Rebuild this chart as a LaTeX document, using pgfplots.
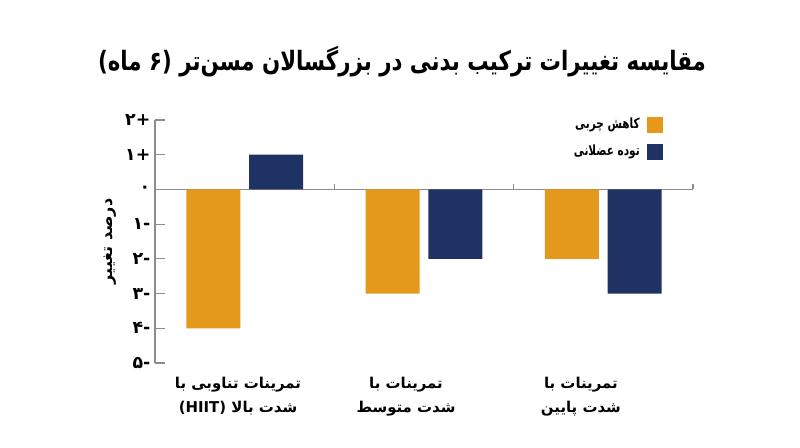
\documentclass[border=0pt]{standalone}
\usepackage{fontspec}
\usepackage{pgfplots}
\pgfplotsset{compat=1.18}
\setmainfont{DejaVu Sans}
\newfontfamily\fa[Script=Arabic]{DejaVu Sans}
\TeXXeTstate=1
\definecolor{cOr}{RGB}{229,153,28}
\definecolor{cNv}{RGB}{30,50,100}
\definecolor{cAx}{RGB}{140,140,140}
\begin{document}
\begin{tikzpicture}[x=0.75pt,y=0.75pt]
\path[use as bounding box] (0,0) rectangle (800,447);
\begin{axis}[
  at={(116.25pt,63pt)}, anchor=south west,
  scale only axis, width=403.5pt, height=182.25pt,
  xmin=-0.5, xmax=2.5, ymin=-5, ymax=2,
  clip=false,
  axis y line=left, axis x line=bottom,
  x axis line style={draw=none},
  y axis line style={cAx, line width=0.8pt, -},
  xtick={-0.037,0.900,1.875},
  xticklabels={{\beginR تمرینات تناوبی با\endR\\\beginR شدت بالا \beginL(HIIT)\endL\endR},
               {\beginR تمرینات با\endR\\\beginR شدت متوسط\endR},
               {\beginR تمرینات با\endR\\\beginR شدت پایین\endR}},
  major x tick style={draw=none},
  xticklabel style={align=center, font=\fa\bfseries\fontsize{11.2}{18}\selectfont, yshift=-7pt},
  ytick={-5,-4,-3,-2,-1,0,1,2},
  yticklabels={-۵,-۴,-۳,-۲,-۱,۰,+۱,+۲},
  yticklabel style={font=\fa\bfseries\fontsize{13}{13}\selectfont},
  tick align=inside,
  major tick length=7.5pt,
  y tick style={cAx, line width=0.8pt},
  ylabel={\beginR درصد تغییر\endR},
  ylabel style={font=\fa\bfseries\fontsize{12}{12}\selectfont},
]
\draw[cAx, line width=0.8pt] (axis cs:-0.5,0) -- (axis cs:2.5,0);
\pgfplotsinvokeforeach{0.5,1.5,2.5}{
  \draw[cAx, line width=0.8pt] (axis cs:#1,0) -- ([yshift=3.75pt]axis cs:#1,0);
}
\addplot[ybar, bar width=0.301, bar shift=0, fill=cOr, draw=none]
  coordinates {(-0.175,-4) (0.825,-3) (1.825,-2)};
\addplot[ybar, bar width=0.301, bar shift=0, fill=cNv, draw=none]
  coordinates {(0.175,1) (1.175,-2) (2.175,-3)};
\end{axis}
% legend
\fill[cOr] (647,314) rectangle (663,330);
\fill[cNv] (647,287) rectangle (663,303);
\node[anchor=east, font=\fa\bfseries\fontsize{10.5}{10.5}\selectfont, inner sep=0pt] at (640,322) {\scalebox{0.75}[1]{\beginR کاهش چربی\endR}};
\node[anchor=east, font=\fa\bfseries\fontsize{10.5}{10.5}\selectfont, inner sep=0pt] at (640,295) {\scalebox{0.75}[1]{\beginR توده عضلانی\endR}};
% title
\node[font=\fa\bfseries\fontsize{20}{20}\selectfont] at (402,385) {\scalebox{0.8}[1]{\beginR مقایسه تغییرات ترکیب بدنی در بزرگسالان مسن‌تر (۶ ماه)\endR}};
\end{tikzpicture}
\end{document}
